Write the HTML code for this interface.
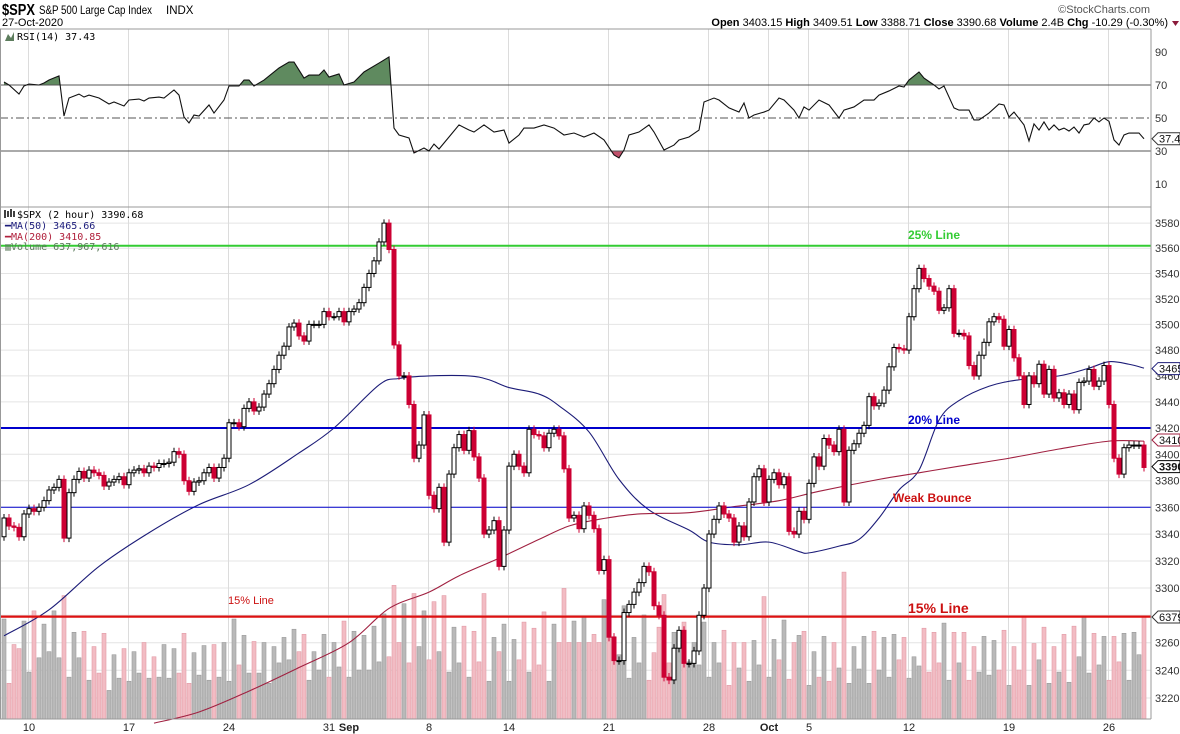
<!DOCTYPE html>
<html><head><meta charset="utf-8">
<style>
html,body{margin:0;padding:0;background:#fff;}
svg{display:block;font-family:"Liberation Sans",sans-serif;}
.mono{font-family:"DejaVu Sans Mono","Liberation Mono",monospace;}
</style></head>
<body>
<svg id="chart" width="1180" height="734" viewBox="0 0 1180 734" xmlns="http://www.w3.org/2000/svg">
  <g id="grid"></g>
  <g id="rsi"></g>
  <g id="vol"></g>
  <g id="ma"></g>
  <g id="ref"></g>
  <g id="candles"></g>
  <g id="axes"></g>
  <g id="texts">
    <text x="2" y="15" font-size="16" font-weight="bold" textLength="33" lengthAdjust="spacingAndGlyphs">$SPX</text>
    <text x="39" y="14" font-size="12" textLength="113" lengthAdjust="spacingAndGlyphs">S&amp;P 500 Large Cap Index</text>
    <text x="166" y="14" font-size="11.5">INDX</text>
    <text x="2" y="26" font-size="11">27-Oct-2020</text>
    <text x="1150" y="13" font-size="11" fill="#555" text-anchor="end">©StockCharts.com</text>
    <text x="1168" y="26" font-size="11" text-anchor="end"><tspan font-weight="bold">Open</tspan> 3403.15 <tspan font-weight="bold">High</tspan> 3409.51 <tspan font-weight="bold">Low</tspan> 3388.71 <tspan font-weight="bold">Close</tspan> 3390.68 <tspan font-weight="bold">Volume</tspan> 2.4B <tspan font-weight="bold">Chg</tspan> -10.29 (-0.30%)</text>
    <polygon points="1172,21 1179,21 1175.5,26" fill="#8b1a3a"/>
    <text class="mono" x="17" y="40" font-size="10">RSI(14) 37.43</text>
    <polygon points="5,41 8,34 11,38 14,32 14,41" fill="#5d7d5d"/>
    <text class="mono" x="17" y="218" font-size="10">$SPX (2 hour) 3390.68</text>
    <path d="M5,210 v8 M8,211 v6 M11,209 v8 M14,211 v6" stroke="#000" stroke-width="1.5"/>
    <text class="mono" x="5" y="229" font-size="10" fill="#1a1a7a">━MA(50) 3465.66</text>
    <text class="mono" x="5" y="240" font-size="10" fill="#b0203c">━MA(200) 3410.85</text>
    <text class="mono" x="5" y="250" font-size="10" fill="#5a7a5a">▥Volume 637,967,616</text>
    <text x="908" y="239" font-size="12" font-weight="bold" fill="#33cc33">25% Line</text>
    <text x="908" y="424" font-size="12" font-weight="bold" fill="#0000cc">20% Line</text>
    <text x="893" y="502" font-size="12" font-weight="bold" fill="#cc1111">Weak Bounce</text>
    <text x="908" y="613" font-size="14" font-weight="bold" fill="#cc1111">15% Line</text>
    <text x="228" y="604" font-size="11" fill="#cc1111">15% Line</text>
  </g>
</svg>
<script>
const closes = [3352,3346,3345,3338,3355,3359,3357,3360,3365,3373,3375,3381,3337,3371,3381,3387,3382,3388,3386,3384,
3376,3379,3381,3383,3377,3386,3388,3389,3386,3391,3390,3393,3393,3394,3402,3400,3380,3372,3379,3380,
3386,3390,3382,3390,3397,3424,3424,3421,3435,3440,3433,3436,3446,3454,3465,3476,3483,3498,3501,3491,
3487,3500,3500,3500,3510,3506,3506,3510,3502,3510,3512,3517,3529,3540,3550,3565,3580,3559,3484,3460,
3460,3438,3397,3407,3430,3369,3359,3375,3334,3385,3405,3415,3403,3418,3398,3382,3340,3343,3350,3316,
3343,3391,3400,3391,3386,3419,3415,3414,3405,3416,3419,3414,3389,3352,3354,3344,3361,3354,3344,3313,
3321,3264,3247,3247,3282,3288,3297,3304,3316,3312,3287,3280,3235,3233,3256,3269,3245,3245,3254,3280,
3300,3340,3351,3361,3355,3352,3334,3346,3338,3364,3383,3389,3364,3381,3386,3377,3383,3342,3340,3357,
3351,3378,3398,3391,3412,3407,3402,3419,3364,3403,3408,3416,3422,3444,3437,3439,3449,3467,3482,3481,
3480,3506,3528,3544,3536,3530,3526,3511,3513,3528,3493,3493,3491,3468,3460,3476,3486,3502,3506,3504,
3483,3496,3474,3460,3438,3460,3454,3469,3446,3465,3443,3447,3438,3446,3434,3455,3456,3465,3452,3456,
3468,3438,3397,3385,3405,3407,3407,3407,3390];
const firstOpen = 3338;
const volumeM = [98,35,73,69,96,46,106,60,93,66,106,60,121,41,85,60,86,38,71,45,
84,28,63,40,69,37,66,45,75,40,61,41,73,40,69,45,84,35,65,43,
72,38,73,41,75,37,98,53,82,45,76,45,75,35,71,55,80,58,88,66,
83,38,66,48,83,41,75,51,96,41,86,48,82,48,91,56,103,61,131,75,
113,55,123,71,106,58,115,66,121,46,90,55,91,41,86,56,123,37,80,66,
93,37,78,58,95,46,89,53,105,37,93,75,128,75,96,75,101,75,83,75,
117,108,81,63,111,40,80,55,102,38,65,90,122,55,85,71,95,56,75,53,
95,41,75,55,87,33,75,50,75,37,77,53,120,41,78,58,97,39,75,82,
86,33,66,41,81,37,75,50,144,35,71,49,81,35,86,48,80,41,83,58,
80,40,61,52,89,46,85,55,94,38,85,55,85,38,71,46,81,43,77,48,
87,33,71,48,101,33,74,58,90,35,71,46,83,36,91,61,101,45,84,53,
81,38,81,56,84,38,85,63,100];
const ma50Idx = [0,9,19,29,39,49,59,66,75,79,85,93,97,101,107,111,117,123,129,137,141,147,153,159,161,167,171,175,179,183,187,191,197,203,211,217,221,225,228];
const ma50Val = [3265,3284,3316,3341,3362,3377,3401,3420,3453,3458,3460,3460,3457,3451,3446,3437,3417,3381,3358,3343,3334,3332,3334,3327,3326,3331,3336,3352,3373,3388,3426,3441,3452,3457,3460,3466,3471,3469,3466];
const ma200Idx = [30,39,49,59,69,77,85,91,99,107,113,119,127,137,145,155,163,175,183,191,201,211,221,228];
const ma200Val = [3202,3210,3225,3242,3260,3285,3297,3309,3322,3336,3346,3351,3355,3356,3360,3365,3372,3381,3386,3391,3397,3404,3410,3410];
const rsiIdx = [0,1,3,4,5,7,8,9,11,12,13,15,16,17,19,21,22,24,25,27,28,29,31,32,34,35,36,37,38,39,41,42,44,45,47,48,49,50,52,55,57,58,60,61,63,64,65,67,68,70,72,75,77,78,79,81,82,84,85,86,87,89,91,93,94,96,98,100,101,103,104,106,108,110,112,114,116,118,120,122,123,124,125,127,129,130,132,134,135,137,139,140,142,143,145,147,148,149,150,152,153,155,156,158,159,160,161,163,165,167,168,170,172,174,175,177,179,180,181,183,184,186,187,188,190,191,193,194,195,197,199,200,201,202,204,205,206,207,208,209,210,211,212,213,214,215,216,217,218,219,220,221,222,223,224,225,227,228];
const rsiVal = [71.8,70,64.5,69.4,70.6,70,71.2,73,75.5,51.2,62.1,64.5,62.7,63.9,62.1,58.5,59.7,57.3,60.9,61.5,60.3,62.1,62.7,62.1,67,63.9,50.6,47,51.8,51.2,57.9,53,60.9,69.4,69.4,73,73,69.4,73,80.3,83.9,83.9,74.2,76,76,79.1,74.8,76.7,70,71.8,77.9,83.3,87,43.9,39.7,37.9,28.8,31.8,30,34.2,31.2,38.5,45.8,42.7,41.5,45.8,41.5,42.7,34.8,39.7,43.9,43.9,45.8,43.9,39.7,40.9,38.5,40.9,36.7,27.6,25.8,30.6,39.7,41.5,45.8,41.5,30.6,33.6,36.7,38.5,42.7,59.7,62.1,60.9,56.1,53.6,59.1,50,51.8,53.6,54.8,62.1,60.9,54.8,50,56.7,54.8,60.9,57.9,50,54.8,56.7,60.9,60.9,63.9,66.4,69.4,68.8,73,77.9,74.2,70,67.6,69.4,56.1,54.8,54.8,48.8,48.8,53,58.5,57.9,50.6,53.6,45.8,36.1,46.4,42.7,47.6,42.7,45.8,42.7,43.9,42.1,44.5,40.9,45.8,46.4,50,47.6,50,48,36.7,33.6,39.7,40.9,40.9,37.4];
const priceTicks = [3580,3560,3540,3520,3500,3480,3460,3440,3420,3400,3380,3360,3340,3320,3300,3260,3240,3220];
const gridPrices = [3580,3560,3540,3520,3500,3480,3460,3440,3420,3400,3380,3360,3340,3320,3300,3280,3260,3240,3220];
const rsiTicks = [90,70,50,30,10];
const dateLabels = ["10","17","24","31","Sep","8","14","21","28","Oct","5","12","19","26"];
const dateIdx = [5,25,45,65,69,85,101,121,141,153,161,181,201,221];
const refLevels = [3562,3420,3360,3279];

const NS = "http://www.w3.org/2000/svg";
const PR = 1151, PT = 207, PB = 719, RT = 29;
const X = i => 4 + 5*i;
const Y = p => 428 + 4481*Math.log(3420/p);
const RY = r => 118 - (r-50)*1.65;
const VY = v => PB - v*1.02;
function mk(tag, attrs, parent){const e=document.createElementNS(NS,tag);for(const k in attrs)e.setAttribute(k,attrs[k]);parent.appendChild(e);return e;}
const G = id => document.getElementById(id);
function smooth(xs, ys){
  let d='M'+xs[0]+','+ys[0];
  for(let k=1;k<xs.length;k++){
    const x0=xs[k-1],y0=ys[k-1],x1=xs[k],y1=ys[k];
    const xp=k>1?xs[k-2]:x0, yp=k>1?ys[k-2]:y0;
    const xn=k<xs.length-1?xs[k+1]:x1, yn=k<ys.length-1?ys[k+1]:y1;
    const c1x=x0+(x1-xp)/6, c1y=y0+(y1-yp)/6, c2x=x1-(xn-x0)/6, c2y=y1-(yn-y0)/6;
    d+=` C${c1x},${c1y} ${c2x},${c2y} ${x1},${y1}`;
  }
  return d;
}

const grid = G('grid');
gridPrices.forEach(p=>{const l=mk('line',{x1:0,x2:PR,y1:Y(p),y2:Y(p),stroke:'#e4e4e4','stroke-width':1},grid);

});
dateIdx.forEach(i=>{const l=mk('line',{x1:X(i)-0.5,x2:X(i)-0.5,y1:RT,y2:PB,stroke:'#dcdcdc','stroke-width':1},grid);

});

const rsiG = G('rsi');
const y70=RY(70), y30=RY(30), y50=RY(50);
mk('defs',{},rsiG).innerHTML='<clipPath id="c70"><rect x="0" y="'+RT+'" width="'+PR+'" height="'+(y70-RT)+'"/></clipPath><clipPath id="c30"><rect x="0" y="'+y30+'" width="'+PR+'" height="'+(PT-y30)+'"/></clipPath>';
const pts = rsiIdx.map((i,k)=>X(i)+','+RY(rsiVal[k]));
const x0=X(rsiIdx[0]), x1=X(rsiIdx[rsiIdx.length-1]);
const f70 = mk('polygon',{points:pts.join(' ')+' '+x1+','+y70+' '+x0+','+y70,fill:'#5f8a5f','clip-path':'url(#c70)'},rsiG);


const f30 = mk('polygon',{points:pts.join(' ')+' '+x1+','+y30+' '+x0+','+y30,fill:'#c0506a','clip-path':'url(#c30)'},rsiG);


[[y70,''],[y30,''],[y50,'8,3,2,3']].forEach(([y,d])=>{const l=mk('line',{x1:0,x2:PR,y1:y,y2:y,stroke:'#555','stroke-width':1,'stroke-dasharray':d},rsiG);

});
const rl = mk('polyline',{points:pts.join(' '),fill:'none',stroke:'#111','stroke-width':1.1},rsiG);



const volG = G('vol');
volumeM.forEach((v,i)=>{
  const o = i===0?firstOpen:closes[i-1];
  const up = closes[i]>=o;
  const r = mk('rect',{x:X(i)-2,y:VY(v),width:4,height:PB-VY(v),fill:up?'#b9b9b9':'#f2bcc4',stroke:up?'#9a9a9a':'#e29aa6','stroke-width':0.6},volG);
  
  
});

const maG = G('ma');
const m50 = mk('path',{d:smooth(ma50Idx.map(X),ma50Val.map(Y)),fill:'none',stroke:'#1c1c78','stroke-width':1.1},maG);


const m200 = mk('path',{d:smooth(ma200Idx.map(X),ma200Val.map(Y)),fill:'none',stroke:'#a02040','stroke-width':1.1},maG);



const refG = G('ref');
const refStyle = [['#33cc33',2,'line-25-percent'],['#0000cc',2,'line-20-percent'],['#0000cc',1,'line-weak-bounce'],['#dd1111',2.2,'line-15-percent']];
refLevels.forEach((p,k)=>{const l=mk('line',{x1:0,x2:PR,y1:Y(p),y2:Y(p),stroke:refStyle[k][0],'stroke-width':refStyle[k][1]},refG);

});

const cG = G('candles');
closes.forEach((c,i)=>{
  const o = i===0?firstOpen:closes[i-1];
  const up = c>=o;
  const hi = Math.max(o,c)+3, lo = Math.min(o,c)-3;
  const col = up?'#000':'#cc0033';
  const w = mk('line',{x1:X(i),x2:X(i),y1:Y(hi),y2:Y(lo),stroke:col,'stroke-width':1},cG);
  
  
  const yt = Y(Math.max(o,c)), yb = Y(Math.min(o,c));
  const b = mk('rect',{x:X(i)-2,y:yt,width:4,height:Math.max(1,yb-yt),fill:up?'#fff':'#cc0033',stroke:col,'stroke-width':1},cG);
  
  
});

const ax = G('axes');
[[0,RT,PR,RT],[0,PT,PR,PT],[0,PB,PR,PB],[PR,RT,PR,PB],[0.5,RT,0.5,PB]].forEach(a=>{const l=mk('line',{x1:a[0],y1:a[1],x2:a[2],y2:a[3],stroke:'#999','stroke-width':1},ax);

});
priceTicks.forEach(p=>{const t=mk('text',{x:1155,y:Y(p)+4,'font-size':11,fill:'#333'},ax);t.textContent=p;

});
rsiTicks.forEach(r=>{const t=mk('text',{x:1155,y:RY(r)+4,'font-size':11,fill:'#333'},ax);t.textContent=r;

});
dateLabels.forEach((d,k)=>{const bold=(d==='Sep'||d==='Oct');const t=mk('text',{x:X(dateIdx[k]),y:731,'font-size':11,'text-anchor':'middle','font-weight':bold?'bold':'normal',fill:'#222'},ax);t.textContent=d;

});
function tag(y,txt,stroke,bold,name){
  const g=mk('g',{},ax);
  
  
  mk('path',{d:`M${PR+1},${y} L${PR+7},${y-6} L1180,${y-6} L1180,${y+6} L${PR+7},${y+6} Z`,fill:'#fff',stroke:stroke,'stroke-width':1},g);
  const t=mk('text',{x:PR+8,y:y+4,'font-size':11,'font-weight':bold?'bold':'normal',fill:'#111'},g);t.textContent=txt;
}
tag(RY(37.43),'37.43','#333',false,'rsi-value-tag');
tag(Y(3465.66),'3465.66','#1c1c78',false,'ma50-value-tag');
tag(Y(3410.85),'3410.85','#a02040',false,'ma200-value-tag');
tag(Y(3390.68),'3390.68','#000',true,'close-value-tag');
tag(617,'637967616','#333',false,'volume-value-tag');
</script>
</body></html>
